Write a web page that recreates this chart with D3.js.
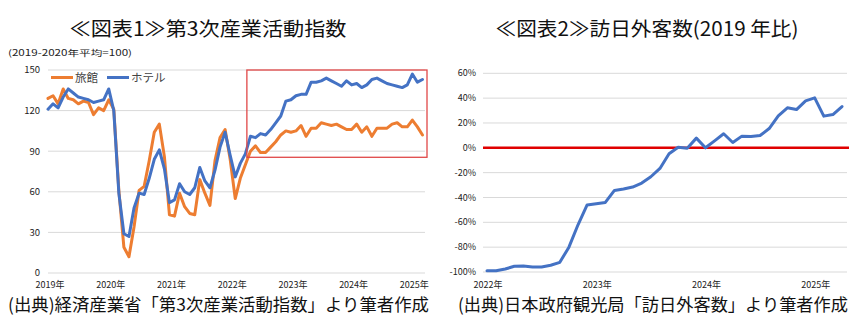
<!DOCTYPE html>
<html><head><meta charset="utf-8">
<script src="https://cdn.jsdelivr.net/npm/d3@7"></script>
<style>
body{margin:0;background:#fff;}
svg{display:block;font-family:"Noto Sans CJK JP","Noto Sans",sans-serif;}
</style></head>
<body>
<svg id="c" width="862" height="322"></svg>
<script>
// ---- Chart 1 data: 第3次産業活動指数 (monthly, Jan 2019 – Mar 2025) ----
const ryokan = [129,131,125,136,129,128,125,127,126,117,122,120,
  128,121,61,19,12,34,61,64,83,104,110,86,
  43,42,59,49,44,43,69,59,50,83,100,106,
  84,55,70,80,90,94,89,89,93,97,102,105,
  104,105,109,101,107,107,111,110,109,110,108,106,
  106,110,104,108,101,107,107,107,110,111,108,108,
  113,108,102];
const hotel = [121,125,122,130,136,133,130,129,128,126,127,128,
  136,120,59,29,27,48,59,58,70,84,91,77,
  52,54,66,60,58,63,78,68,63,76,93,104,
  87,71,81,88,101,100,103,102,106,111,116,127,
  128,131,132,132,141,141,142,144,142,140,138,142,
  139,140,137,139,143,144,142,140,139,138,137,139,
  147,141,143];
const yTicks1 = [0,30,60,90,120,150];
const xTickIdx1 = [0,12,24,36,48,60,72];
const xTickLabels1 = ["2019年","2020年","2021年","2022年","2023年","2024年","2025年"];
const seriesNames1 = ["旅館","ホテル"];

// ---- Chart 2 data: 訪日外客数 (2019年比, %, Jan 2022 – Apr 2025) ----
const visitors = [-99,-99,-97.6,-95.4,-95.2,-96,-96,-94.6,-92.2,-80,-62,-46,
  -45,-44,-34.3,-33.2,-31.6,-28.4,-23.3,-16.6,-4.8,0.5,-0.3,7.8,
  0,5.6,11.3,4.3,9.4,9.1,9.9,15.5,25.7,32.2,30.8,37.8,
  40.2,25.5,26.8,33.2];
const yTicks2 = [-100,-80,-60,-40,-20,0,20,40,60];
const xTickIdx2 = [0,12,24,36];
const xTickLabels2 = ["2022年","2023年","2024年","2025年"];

const titles = ["≪図表1≫第3次産業活動指数","≪図表2≫訪日外客数(2019 年比)"];
const subtitle1 = "(2019-2020年平均=100)";
const sources = ["(出典)経済産業省「第3次産業活動指数」より筆者作成","(出典)日本政府観光局「訪日外客数」より筆者作成"];

const ORANGE = "#ED7D31", BLUE = "#4472C4", GRID = "#d9d9d9", TXT = "#222";
const svg = d3.select("#c");

// ================= Chart 1 =================
const x1 = d3.scaleLinear().domain([0, 74.5]).range([48, 425]);
const y1 = d3.scaleLinear().domain([0, 150]).range([273, 70]);

const g1 = svg.append("g");
g1.selectAll("line.grid").data(yTicks1).join("line")
  .attr("x1", 48).attr("x2", 425)
  .attr("y1", d => y1(d)).attr("y2", d => y1(d))
  .attr("stroke", GRID).attr("stroke-width", 1);
g1.selectAll("text.yt").data(yTicks1).join("text")
  .attr("x", 40).attr("y", d => y1(d)).attr("dy", "0.35em")
  .attr("text-anchor", "end").attr("font-size", 9.5).attr("fill", TXT)
  .text(d => d);
g1.selectAll("text.xt").data(xTickIdx1).join("text")
  .attr("x", d => x1(d) + 2).attr("y", 285).attr("dy", "0.35em")
  .attr("text-anchor", "middle").attr("font-size", 9).attr("fill", TXT)
  .text((d, i) => xTickLabels1[i]);

const line1 = d3.line().x((d, i) => x1(i)).y(d => y1(d)).curve(d3.curveLinear);
g1.append("path").datum(ryokan).attr("d", line1)
  .attr("fill", "none").attr("stroke", ORANGE).attr("stroke-width", 3)
  .attr("stroke-linejoin", "round").attr("stroke-linecap", "round");
g1.append("path").datum(hotel).attr("d", line1)
  .attr("fill", "none").attr("stroke", BLUE).attr("stroke-width", 3)
  .attr("stroke-linejoin", "round").attr("stroke-linecap", "round");

// highlight rectangle (from Apr 2022 to end, values ~86–150)
g1.append("rect")
  .attr("x", x1(39.3)).attr("y", y1(150))
  .attr("width", x1(74.5) + 2 - x1(39.3)).attr("height", y1(85.5) - y1(150))
  .attr("fill", "none").attr("stroke", "#e04848").attr("stroke-width", 1.3);

// legend
const leg = [{name: seriesNames1[0], c: ORANGE, x: 51}, {name: seriesNames1[1], c: BLUE, x: 107}];
leg.forEach(l => {
  g1.append("line").attr("x1", l.x).attr("x2", l.x + 22).attr("y1", 77.5).attr("y2", 77.5)
    .attr("stroke", l.c).attr("stroke-width", 3);
  g1.append("text").attr("x", l.x + 24).attr("y", 77.5).attr("dy", "0.36em")
    .attr("font-size", 11.5).attr("fill", "#444").text(l.name);
});

svg.append("text").attr("x", 208).attr("y", 36).attr("text-anchor", "middle")
  .attr("font-size", 19.5).attr("fill", "#111")
  .attr("textLength", 277).attr("lengthAdjust", "spacingAndGlyphs").text(titles[0]);
svg.append("text").attr("x", 8).attr("y", 56).attr("font-size", 8.5).attr("fill", TXT)
  .attr("textLength", 124).attr("lengthAdjust", "spacingAndGlyphs").text(subtitle1);

// ================= Chart 2 =================
const x2 = d3.scaleLinear().domain([0, 39]).range([487, 842]);
const y2 = d3.scaleLinear().domain([-100, 60]).range([272, 73.3]);
const g2 = svg.append("g");
g2.selectAll("line.grid").data(yTicks2.filter(d => d !== 0)).join("line")
  .attr("x1", 483).attr("x2", 847)
  .attr("y1", d => y2(d)).attr("y2", d => y2(d))
  .attr("stroke", GRID).attr("stroke-width", 1);
g2.selectAll("text.yt").data(yTicks2).join("text")
  .attr("x", 476).attr("y", d => y2(d)).attr("dy", "0.35em")
  .attr("text-anchor", "end").attr("font-size", 9).attr("fill", TXT)
  .text(d => d + "%");
g2.selectAll("text.xt").data(xTickIdx2).join("text")
  .attr("x", d => x2(d) + 1).attr("y", 285).attr("dy", "0.35em")
  .attr("text-anchor", "middle").attr("font-size", 9).attr("fill", TXT)
  .text((d, i) => xTickLabels2[i]);
g2.append("line").attr("x1", 483).attr("x2", 849)
  .attr("y1", y2(0)).attr("y2", y2(0))
  .attr("stroke", "#e00000").attr("stroke-width", 2.5);
const line2 = d3.line().x((d, i) => x2(i)).y(d => y2(d));
g2.append("path").datum(visitors).attr("d", line2)
  .attr("fill", "none").attr("stroke", BLUE).attr("stroke-width", 3)
  .attr("stroke-linejoin", "round").attr("stroke-linecap", "round");

svg.append("text").attr("x", 647).attr("y", 36).attr("text-anchor", "middle")
  .attr("font-size", 19.5).attr("fill", "#111")
  .attr("textLength", 303).attr("lengthAdjust", "spacingAndGlyphs").text(titles[1]);

// sources
svg.append("text").attr("x", 8).attr("y", 311).attr("font-size", 17.5).attr("fill", "#111")
  .attr("textLength", 421).attr("lengthAdjust", "spacingAndGlyphs").text(sources[0]);
svg.append("text").attr("x", 458).attr("y", 311).attr("font-size", 17.5).attr("fill", "#111")
  .attr("textLength", 390).attr("lengthAdjust", "spacingAndGlyphs").text(sources[1]);
</script>
</body></html>
